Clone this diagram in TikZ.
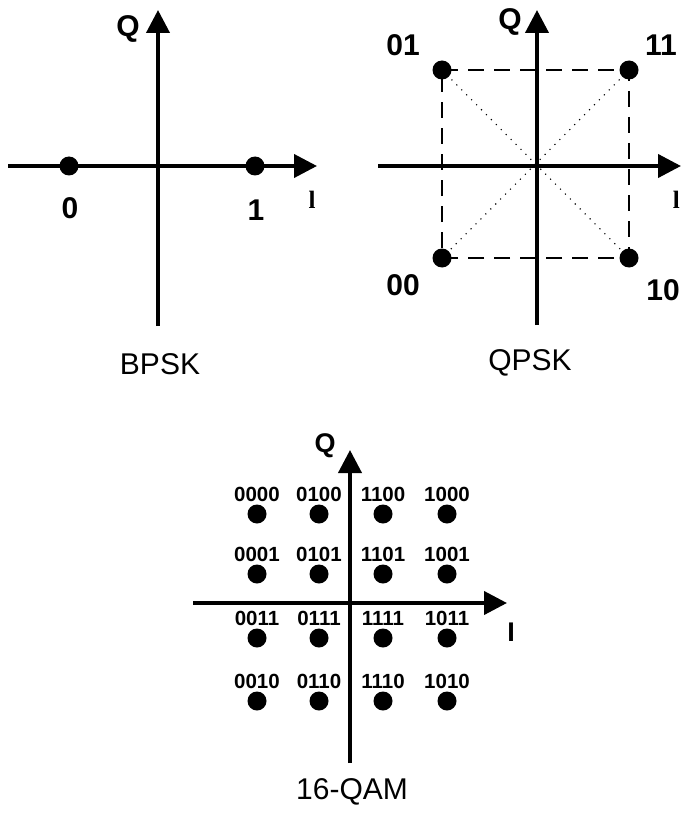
\documentclass[tikz,border=0pt]{standalone}
\usepackage{fontspec}
\setmainfont{Liberation Sans}
\newfontfamily\serifface{Liberation Serif}
\usetikzlibrary{arrows.meta}
\begin{document}
\begin{tikzpicture}[x=1pt,y=-1pt,
  axis/.style={line width=4pt,-{Triangle[length=23pt,width=23pt]}},
  dot/.style={circle,fill=black,inner sep=0pt,minimum size=19pt},
  biglbl/.style={font=\bfseries\fontsize{30}{30}\selectfont,inner sep=0pt},
  smalllbl/.style={font=\bfseries\fontsize{20.5}{20.5}\selectfont,inner sep=0pt,
    text height=15pt,text depth=0pt},
  axlbl/.style={font=\bfseries\fontsize{27}{27}\selectfont,inner sep=0pt},
  serifl/.style={font=\serifface\bfseries\fontsize{25}{25}\selectfont,inner sep=0pt},
  caption/.style={font=\fontsize{30}{30}\selectfont,inner sep=0pt},
  dashbox/.style={line width=2pt,dash pattern=on 16pt off 10pt},
  diag/.style={line width=1.6pt,line cap=round,dash pattern=on 0pt off 7pt}]
\useasboundingbox (0,0) rectangle (681,813);
\clip (0,0) rectangle (681,813);
\fill[white] (0,0) rectangle (681,813);

% ---------- BPSK ----------
\coordinate (bw) at (8,166);
\coordinate (be) at (317,166);
\coordinate (bs) at (158,326);
\coordinate (bn) at (158,10);
\draw[axis] (bw) -- (be);
\draw[axis] (bs) -- (bn);
\node[dot] (b0) at (69,166) {};
\node[dot] (b1) at (255,166) {};
\node[biglbl] (b0l) at (70,208) {0};
\node[biglbl] (b1l) at (256,210) {1};
\node[biglbl] (bq) at (128,29) {Q};
\node[serifl] (bi) at (312,200) {l};
\node[caption] (bcap) at (160,364) {BPSK};

% ---------- QPSK ----------
\coordinate (qw) at (378,166);
\coordinate (qe) at (681,166);
\coordinate (qs) at (537,325);
\coordinate (qn) at (537,10);
\draw[dashbox] (442,70) -- (629,70) -- (629,258) -- (442,258) -- cycle;
\draw[diag] (442,70) -- (629,258);
\draw[diag] (629,70) -- (442,258);
\draw[axis] (qw) -- (qe);
\draw[axis] (qs) -- (qn);
\node[dot] (q01) at (442,70) {};
\node[dot] (q11) at (629,70) {};
\node[dot] (q00) at (442,258) {};
\node[dot] (q10) at (629,258) {};
\node[biglbl] (q01l) at (403,45) {01};
\node[biglbl] (q11l) at (661,45) {11};
\node[biglbl] (q00l) at (403,285) {00};
\node[biglbl,anchor=east] (q10l) at (680,290) {10};
\node[serifl,anchor=east] (qi) at (680,200) {l};
\node[biglbl] (qq) at (510,22) {Q};
\node[caption] (qcap) at (530,363) {QPSK};

% ---------- 16-QAM ----------
\coordinate (mw) at (193,603);
\coordinate (me) at (507,603);
\coordinate (ms) at (350,763);
\coordinate (mn) at (350,450);
\draw[axis] (mw) -- (me);
\draw[axis] (ms) -- (mn);
\foreach \row/\yy/\codes in {1/514/{0000,0100,1100,1000},
                            2/574/{0001,0101,1101,1001},
                            3/638/{0011,0111,1111,1011},
                            4/701/{0010,0110,1110,1010}} {
  \foreach \code [count=\col] in \codes {
    \pgfmathsetmacro{\xx}{{257,319,383,447}[\col-1]}
    \node[dot] (m\row\col) at (\xx,\yy) {};
    \node[smalllbl,above=3pt] (m\row\col l) at (m\row\col.north) {\code};
  }
}
\node[axlbl] (mq) at (325,446) {Q};
\node[axlbl] (mi) at (511,632) {I};
\node[caption] (mcap) at (352,792) {16-QAM};
\end{tikzpicture}
\end{document}
